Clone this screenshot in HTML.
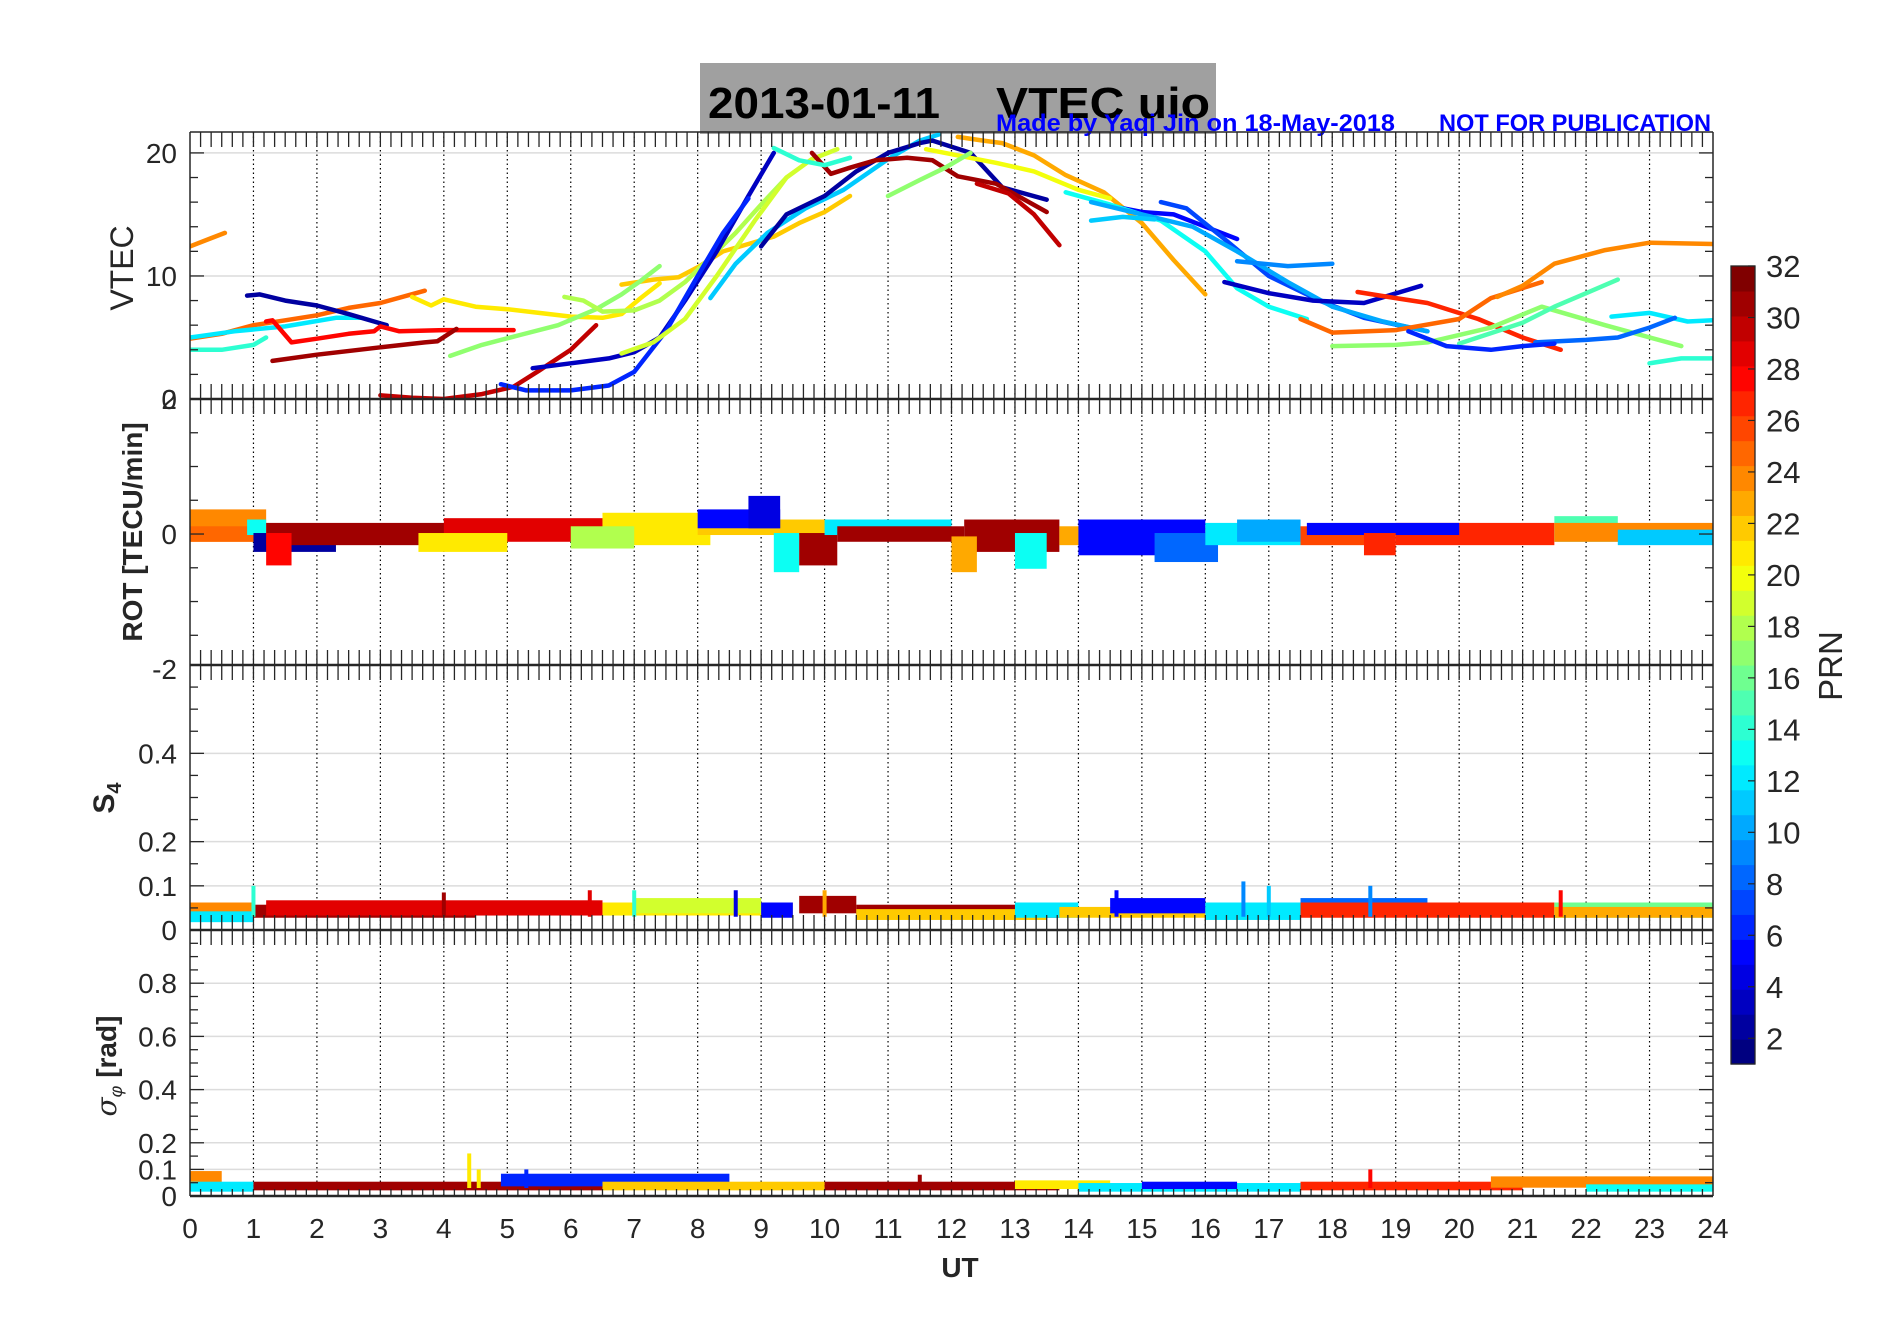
<!DOCTYPE html>
<html><head><meta charset="utf-8"><style>
html,body{margin:0;padding:0;background:#fff;}
svg{display:block;font-family:"Liberation Sans",sans-serif;}
</style></head><body>
<svg id="chart" width="1902" height="1330" viewBox="0 0 1902 1330" xmlns="http://www.w3.org/2000/svg">
<rect x="0" y="0" width="1902" height="1330" fill="#fff"/>
<rect x="700" y="63" width="516" height="71" fill="#a0a0a0"/>
<text x="708" y="118" font-size="44" font-weight="bold" fill="#000" textLength="232" lengthAdjust="spacingAndGlyphs">2013-01-11</text>
<text x="996" y="118" font-size="44" font-weight="bold" fill="#000" textLength="214" lengthAdjust="spacingAndGlyphs">VTEC  uio</text>
<text x="996" y="131" font-size="24" font-weight="bold" fill="#0000ff" textLength="399" lengthAdjust="spacingAndGlyphs">Made by Yaqi Jin on 18-May-2018</text>
<text x="1439" y="131" font-size="24" font-weight="bold" fill="#0000ff" textLength="272" lengthAdjust="spacingAndGlyphs">NOT FOR PUBLICATION</text>
<g id="grid"></g>
<g id="data"></g>
<g id="axes"></g>
<g id="cbar"></g>
</svg>
<script>
// ---------- VTEC tracks ----------
const vtecPrn = [24,25,12,14,2,28,31,21,22,17,18,30,3,6,19,11,2,31,30,14,23,20,17,5,7,13,10,11,9,3,27,25,24,17,15,14,12,8,6];
const vtecTimes = [
[0,0.3,0.55],[0,0.5,1,1.5,2,2.5,3,3.7],[0,0.7,1.5,2.3,2.7],[0,0.5,1,1.2],
[0.9,1.1,1.5,2,2.5,3.1],[1.2,1.3,1.6,2,2.5,2.9,3,3.3,4,5.1],[1.3,2,3,3.7,3.9,4.2],
[3.5,3.8,4.0,4.5,5,5.5,6,6.5,6.8,7.1,7.4],[6.8,7.3,7.7,8,8.4,8.8,9.2,9.6,10,10.4],
[4.1,4.6,5.2,5.8,6.4,6.8,7.1,7.4],[5.9,6.2,6.5,7,7.4,7.8,8.2,8.6,9,9.4],
[3,3.5,4,4.6,5.1,5.5,6,6.4],[5.4,6,6.6,7,7.4,7.8,8.3,8.8,9.2],[4.9,5.3,6,6.6,7,7.5,8,8.4,8.8],
[6.8,7.3,7.8,8.3,8.9,9.4,9.8,10.2],[8.2,8.6,9.1,9.7,10.3,11,11.5,11.8],
[9,9.4,10,10.5,11,11.5,11.7,12.3,12.8,13.5],[9.8,10.1,10.4,10.8,11.3,11.7,12.1,12.7,13.5],
[12.4,12.9,13.3,13.7],[9.2,9.6,10,10.4],[12.1,12.5,12.8,13.3,13.8,14.4,15,15.5,16],
[11.6,12.1,12.7,13.3,14,14.5],[11,11.5,11.9,12.3],[14.4,15,15.5,16,16.5],
[15.3,15.7,16.3,17,17.8,18.5,19.5],[13.8,14.5,15.3,16,16.5,17,17.6],
[14.2,15,15.8,16.5,17.3,18,18.8,19.5],[14.2,14.7,15.2],[16.5,17.3,18],
[16.3,17,17.7,18.5,19.4],[18.4,19,19.5,20.3,21,21.6],[17.5,18,19,20,20.5,21.3],
[20.6,21,21.5,22.3,23,24],[18,19,19.5,20.5,21.3,22.3,23.5],[20,21,21.5,22,22.5],
[23,23.5,24],[22.4,23,23.6,24],[21.2,22,22.5,23,23.4],[19.2,19.8,20.5,21,21.5]];
const vtecValues = [
[12.4,13,13.5],[4.9,5.3,6,6.4,6.8,7.4,7.8,8.8],[5,5.5,5.9,6.6,6.6],[4,4,4.4,5],
[8.4,8.5,8,7.6,6.9,6.0],[6.3,6.4,4.6,4.9,5.3,5.5,5.9,5.5,5.6,5.6],[3.1,3.6,4.2,4.6,4.7,5.7],
[8.3,7.6,8.1,7.5,7.3,7,6.7,6.6,6.9,8.2,9.4],[9.3,9.7,9.9,10.7,12,12.6,13.2,14.3,15.2,16.5],
[3.5,4.4,5.2,6.0,7.3,8.5,9.6,10.8],[8.3,8,7.1,7.2,8,9.5,11.5,13.5,15.8,18],
[0.3,0.1,0,0.4,1,2.3,4,6],[2.5,2.9,3.3,3.8,5,8,12,16.5,20],[1.2,0.7,0.7,1.1,2.2,5.5,10,13.5,16.3],
[3.7,4.6,6.5,10,14.5,18,19.5,20.3],[8.2,11,13.5,15.5,17,19.5,21,21.5],
[12.4,15,16.5,18.5,20,20.8,21,20,17.2,16.2],[20,18.3,18.8,19.4,19.6,19.4,18.1,17.5,15.2],
[17.5,16.7,15,12.5],[20.4,19.4,19,19.6],[21.3,21,20.8,19.8,18.2,16.8,14.3,11.3,8.5],
[20.3,19.8,19.2,18.5,17,16.3],[16.5,17.8,18.8,20],[15.8,15.2,15,14,13],
[16,15.5,13,10,8,6.6,5.5],[16.8,15.8,14.5,12,9,7.5,6.5],
[16,15,14,12,9.5,7.5,6.3,5.5],[14.5,14.8,14.6],[11.2,10.8,11],
[9.5,8.6,8,7.8,9.2],[8.7,8.2,7.8,6.5,5,4],[6.5,5.4,5.6,6.5,8.2,9.5],
[8.3,9.2,11,12.1,12.7,12.6],[4.3,4.4,4.6,5.8,7.5,6,4.3],[4.5,6.2,7.5,8.6,9.7],
[2.9,3.3,3.3],[6.7,7,6.3,6.4],[4.6,4.8,5,5.8,6.6],[5.5,4.3,4,4.3,4.5]];

// ---------- ROT bands ----------
const rotPrn   = [24,25,13,2,31,28,29,21,21,18,22,5,4,13,31,12,31,31,23,13,23,5,8,12,10,26,27,5,27,15,24,11];
const rotStart = [0,0,0.9,1,1.2,1.2,4,3.6,6.5,6,8,8,8.8,9.2,9.6,10,10.2,12.2,12,13,13.7,14,15.2,16,16.5,17.5,19,17.6,18.5,21.5,21.5,22.5];
const rotEnd   = [1.2,1.1,1.2,2.3,4.6,1.6,6.5,5,8.2,7,10.5,9.3,9.3,9.6,10.2,12,12.2,13.7,12.4,13.5,16,16,16.2,17.5,17.5,19,21.5,20,19,22.5,24,24];
const rotLo    = [-0.1,-0.1,0,-0.25,-0.15,-0.45,-0.1,-0.25,-0.15,-0.2,0,0.1,0.1,-0.55,-0.45,0,-0.1,-0.25,-0.55,-0.5,-0.15,-0.3,-0.4,-0.15,-0.1,-0.15,-0.15,0,-0.3,-0.1,-0.1,-0.15];
const rotHi    = [0.35,0.1,0.2,0,0.15,0,0.22,0,0.3,0.1,0.2,0.35,0.55,0,0,0.2,0.1,0.2,-0.05,0,0.1,0.2,0,0.15,0.2,0.1,0.15,0.15,0,0.25,0.15,0.05];

// ---------- S4 bands & spikes ----------
const s4Prn   = [24,12,31,29,21,19,5,31,31,22,12,22,5,12,8,27,16,23];
const s4Start = [0,0,1,1.2,6.5,7,9,9.6,10.5,10.5,13,13.7,14.5,16,17.5,17.5,21.5,21.5];
const s4End   = [1,1,4.5,6.5,9.5,9,9.5,10.5,13.7,13.5,14,16,16,17.5,19.5,21.5,24,24];
const s4Lo    = [0.03,0.02,0.03,0.035,0.035,0.04,0.03,0.04,0.03,0.025,0.03,0.03,0.04,0.025,0.04,0.03,0.03,0.03];
const s4Hi    = [0.06,0.04,0.055,0.065,0.06,0.07,0.06,0.075,0.055,0.045,0.06,0.05,0.07,0.06,0.07,0.06,0.06,0.05];
const s4SpikePrn  = [14,4,23,5,9,11,9,28,31,29,14];
const s4SpikeTime = [1,8.6,10,14.6,16.6,17,18.6,21.6,4,6.3,7];
const s4SpikeVal  = [0.1,0.09,0.09,0.09,0.11,0.1,0.1,0.09,0.085,0.09,0.09];

// ---------- sigma-phi bands & spikes ----------
const sigPrn   = [24,12,31,6,22,31,21,12,5,27,24,13];
const sigStart = [0,0,1,4.9,6.5,10,13,14,15,17.5,20.5,22];
const sigEnd   = [0.5,1,6.5,8.5,10,13.7,14.5,17.5,16.5,21,24,24];
const sigLo    = [0.04,0.02,0.025,0.04,0.025,0.025,0.03,0.02,0.03,0.025,0.035,0.02];
const sigHi    = [0.09,0.05,0.05,0.08,0.05,0.05,0.055,0.045,0.05,0.05,0.07,0.04];
const sigSpikePrn  = [21,21,28,6,31];
const sigSpikeTime = [4.4,4.55,18.6,5.3,11.5];
const sigSpikeVal  = [0.16,0.1,0.1,0.1,0.08];

// ---------- axis ticks ----------
const xTickLabels = ['0','1','2','3','4','5','6','7','8','9','10','11','12','13','14','15','16','17','18','19','20','21','22','23','24'];
const cbarTicks = [2,4,6,8,10,12,14,16,18,20,22,24,26,28,30,32];

const NS='http://www.w3.org/2000/svg';
const L=190, R=1713;
function X(t){return L+t*(R-L)/24;}
const panels={
 vtec:{top:132,bot:399,min:0,max:21.7,major:[0,10,20],grid:[10,20],minorStep:2},
 rot:{top:399,bot:665,min:-1.94,max:2,major:[-2,0,2],grid:[],minorStep:0.5},
 s4:{top:665,bot:930,min:0,max:0.6,major:[0,0.1,0.2,0.4],grid:[0.1,0.2,0.4],minorStep:0.05},
 sig:{top:930,bot:1196,min:0,max:1,major:[0,0.1,0.2,0.4,0.6,0.8],grid:[0.1,0.2,0.4,0.6,0.8],minorStep:0.05}
};
function Y(p,v){return p.bot-(v-p.min)/(p.max-p.min)*(p.bot-p.top);}
function jet(prn){
 const x=(prn-1)/31;
 const c=v=>Math.round(255*Math.max(0,Math.min(1,v)));
 return 'rgb('+c(1.5-Math.abs(4*x-3))+','+c(1.5-Math.abs(4*x-2))+','+c(1.5-Math.abs(4*x-1))+')';
}
function mk(tag,attrs,parent){const e=document.createElementNS(NS,tag);for(const k in attrs)e.setAttribute(k,attrs[k]);parent.appendChild(e);return e;}
const gGrid=document.getElementById('grid'),gData=document.getElementById('data'),gAxes=document.getElementById('axes'),gC=document.getElementById('cbar');

const defs=mk('defs',{},document.getElementById('chart'));
for(const k in panels){const p=panels[k];const cp=mk('clipPath',{id:'clip-'+k},defs);mk('rect',{x:L,y:p.top,width:R-L,height:p.bot-p.top},cp);}

for(const k in panels){const p=panels[k];
 p.grid.forEach(v=>{const g=mk('line',{x1:L,x2:R,y1:Y(p,v),y2:Y(p,v),stroke:'#dcdcdc','stroke-width':1.5},gGrid);
  });
}
for(let h=1;h<24;h++){const g=mk('line',{x1:X(h),x2:X(h),y1:132,y2:1196,stroke:'#000','stroke-width':1.2,'stroke-dasharray':'1.5,3'},gGrid);
 }

const gV=mk('g',{'clip-path':'url(#clip-vtec)'},gData);

vtecPrn.forEach((prn,i)=>{
 const pts=vtecTimes[i].map((t,j)=>X(t).toFixed(1)+','+Y(panels.vtec,vtecValues[i][j]).toFixed(1)).join(' ');
 const pl=mk('polyline',{points:pts,fill:'none',stroke:jet(prn),'stroke-width':4.5,'stroke-linejoin':'round','stroke-linecap':'round'},gV);
 
 
});
function bands(key,prns,st,en,lo,hi){
 const p=panels[key];const g=mk('g',{'clip-path':'url(#clip-'+key+')'},gData);
 
 prns.forEach((prn,i)=>{
  const y1=Y(p,hi[i]),y2=Y(p,lo[i]);
  const r=mk('rect',{x:X(st[i]),y:y1-1,width:X(en[i])-X(st[i]),height:y2-y1+2,fill:jet(prn)},g);
  
  
 });
 return g;
}
function spikes(g,key,prns,ts,vs){
 const p=panels[key];
 prns.forEach((prn,i)=>{
  const l=mk('line',{x1:X(ts[i]),x2:X(ts[i]),y1:Y(p,vs[i]),y2:Y(p,0.03),stroke:jet(prn),'stroke-width':4},g);
  
  
 });
}
bands('rot',rotPrn,rotStart,rotEnd,rotLo,rotHi);
const gS4=bands('s4',s4Prn,s4Start,s4End,s4Lo,s4Hi);
spikes(gS4,'s4',s4SpikePrn,s4SpikeTime,s4SpikeVal);
const gSig=bands('sig',sigPrn,sigStart,sigEnd,sigLo,sigHi);
spikes(gSig,'sig',sigSpikePrn,sigSpikeTime,sigSpikeVal);

const AX='#262626';
for(const k in panels){const p=panels[k];
 mk('line',{x1:L,x2:L,y1:p.top,y2:p.bot,stroke:AX,'stroke-width':1.5},gAxes);
 mk('line',{x1:R,x2:R,y1:p.top,y2:p.bot,stroke:AX,'stroke-width':1.5},gAxes);
 for(let v=Math.ceil(p.min/p.minorStep)*p.minorStep; v<=p.max+1e-9; v+=p.minorStep){
  const y=Y(p,v);const isMaj=p.major.some(m=>Math.abs(m-v)<1e-6);const len=isMaj?14:8;
  mk('line',{x1:L,x2:L+len,y1:y,y2:y,stroke:AX,'stroke-width':1.3},gAxes);
  mk('line',{x1:R-len,x2:R,y1:y,y2:y,stroke:AX,'stroke-width':1.3},gAxes);
 }
 p.major.forEach(v=>{
  const t=mk('text',{x:177,y:Y(p,v)+10,'font-size':28,fill:AX,'text-anchor':'end'},gAxes);
  t.textContent=String(v);
  
  
 });
}
[132,399,665,930,1196].forEach((y,idx)=>{
 mk('line',{x1:L,x2:R,y1:y,y2:y,stroke:AX,'stroke-width':idx==0?1.5:2.5},gAxes);
 for(let m=1;m<24*6;m++){const x=X(m/6);
  if(idx<4) mk('line',{x1:x,x2:x,y1:y,y2:y+15,stroke:AX,'stroke-width':1.3},gAxes);
  if(idx>0&&idx<4) mk('line',{x1:x,x2:x,y1:y-15,y2:y,stroke:AX,'stroke-width':1.3},gAxes);
  if(idx==4) mk('line',{x1:x,x2:x,y1:y-7,y2:y,stroke:AX,'stroke-width':1.3},gAxes);
 }
});
xTickLabels.forEach((s,i)=>{
 const t=mk('text',{x:X(i),y:1238,'font-size':28,fill:AX,'text-anchor':'middle'},gAxes);
 t.textContent=s;
 
 
});
function lbl(txt,x,y,rot,size,bold,name){
 const t=mk('text',{x:x,y:y,'font-size':size,fill:AX,'text-anchor':'middle','font-weight':bold?'bold':'normal',transform:rot?'rotate(-90 '+x+' '+y+')':''},gAxes);
 t.textContent=txt;return t;
}
lbl('UT',960,1290-13,false,28,true,'x-axis-title');
lbl('VTEC',133,268,true,32,false,'vtec-axis-title');
lbl('ROT [TECU/min]',142,532,true,28,true,'rot-axis-title');
const s4t=lbl('S',114,798,true,30,true,'s4-axis-title');
const sub=document.createElementNS(NS,'tspan');sub.setAttribute('font-size','20');sub.setAttribute('dy','7');sub.textContent='4';s4t.appendChild(sub);
const sg=lbl('',116,1066,true,28,true,'sigma-axis-title');
const ts1=document.createElementNS(NS,'tspan');ts1.setAttribute('font-style','italic');ts1.setAttribute('font-family','"DejaVu Serif",serif');ts1.setAttribute('font-weight','normal');ts1.textContent='σ';sg.appendChild(ts1);
const ts2=document.createElementNS(NS,'tspan');ts2.setAttribute('font-style','italic');ts2.setAttribute('font-size','18');ts2.setAttribute('font-weight','normal');ts2.setAttribute('dy','6');ts2.textContent='φ';sg.appendChild(ts2);
const ts3=document.createElementNS(NS,'tspan');ts3.setAttribute('dy','-6');ts3.textContent=' [rad]';sg.appendChild(ts3);

const CT=266,CB=1064,CL=1731,CR=1755;
for(let i=0;i<32;i++){
 const h=(CB-CT)/32;
 const r=mk('rect',{x:CL,y:CB-(i+1)*h,width:CR-CL,height:h+0.6,fill:jet(i+1)},gC);
 
 
}
mk('rect',{x:CL,y:CT,width:CR-CL,height:CB-CT,fill:'none',stroke:AX,'stroke-width':1.3},gC);
function CY(v){return CB-(v-1)/31*(CB-CT);}
cbarTicks.forEach(v=>{
 mk('line',{x1:CR-7,x2:CR,y1:CY(v),y2:CY(v),stroke:AX,'stroke-width':1.2},gC);
 const t=mk('text',{x:1766,y:CY(v)+11,'font-size':31,fill:AX},gC);
 t.textContent=String(v);
 
 
});
const prnT=mk('text',{x:1842,y:666,'font-size':33,fill:AX,'text-anchor':'middle',transform:'rotate(-90 1842 666)'},gC);
prnT.textContent='PRN';


</script>
</body></html>
